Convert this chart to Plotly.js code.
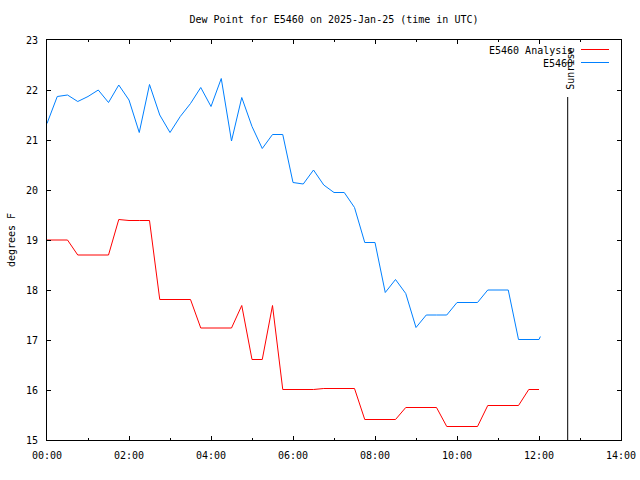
<!DOCTYPE html>
<html>
<head>
<meta charset="utf-8">
<script src="https://cdn.plot.ly/plotly-3.0.1.min.js"></script>
<style>html,body{margin:0;padding:0;background:#fff;}#chart{width:640px;height:480px;}</style>
</head>
<body>
<div id="chart"></div>
<script>
// Time of each sample (minutes after 2025-01-25 00:00 UTC)
const analysisMinutes = [0,15,30,45,60,75,90,105,120,135,150,165,180,195,210,225,240,255,270,285,300,315,330,345,360,375,390,405,420,435,450,465,480,495,510,525,540,555,570,585,600,615,630,645,660,675,690,705,720];
const analysisValues = [19.0,19.0,19.0,18.7,18.7,18.7,18.7,19.41,19.39,19.39,19.39,17.81,17.81,17.81,17.81,17.24,17.24,17.24,17.24,17.69,16.61,16.61,17.69,16.01,16.01,16.01,16.01,16.03,16.03,16.03,16.03,15.41,15.41,15.41,15.41,15.65,15.65,15.65,15.65,15.27,15.27,15.27,15.27,15.69,15.69,15.69,15.69,16.01,16.01];

const stationMinutes = [0,15,30,45,60,75,90,105,120,135,150,165,180,195,210,225,240,255,270,285,300,315,330,345,360,375,390,405,420,435,450,465,480,495,510,525,540,555,570,585,600,615,630,645,660,675,690,705,720,722];
const stationValues = [21.33,21.87,21.9,21.77,21.87,22.0,21.75,22.1,21.8,21.15,22.11,21.5,21.15,21.47,21.73,22.05,21.67,22.23,20.98,21.85,21.27,20.83,21.11,21.11,20.15,20.12,20.4,20.1,19.95,19.95,19.65,18.95,18.95,17.95,18.21,17.93,17.25,17.5,17.5,17.5,17.75,17.75,17.75,18.0,18.0,18.0,17.01,17.01,17.01,17.07];

const sunriseTime = '2025-01-25 12:42';
const seriesNames = ['E5460 Analysis', 'E5460'];
const titleText = 'Dew Point for E5460 on 2025-Jan-25 (time in UTC)';
const yTitleText = 'degrees F';

function toTime(m) {
  const d = new Date(Date.UTC(2025, 0, 25, 0, m));
  const p = n => String(n).padStart(2, '0');
  return '2025-01-25 ' + p(d.getUTCHours()) + ':' + p(d.getUTCMinutes());
}

const FONT = 'DejaVu Sans Mono, monospace';
const RED = '#ff0000';
const BLUE = '#0080ff';

const traces = [
  {x: analysisMinutes.map(toTime), y: analysisValues, type: 'scatter', mode: 'lines',
   name: seriesNames[0], line: {color: RED, width: 1}, showlegend: false, hoverinfo: 'skip'},
  {x: stationMinutes.map(toTime), y: stationValues, type: 'scatter', mode: 'lines',
   name: seriesNames[1], line: {color: BLUE, width: 1}, showlegend: false, hoverinfo: 'skip'}
];

const axisCommon = {
  showgrid: false, zeroline: false, showline: true, linecolor: '#000', linewidth: 1,
  mirror: 'allticks', ticks: 'inside', ticklen: 4, tickwidth: 1, tickcolor: '#000',
  tickfont: {family: FONT, size: 10, color: '#000'}
};

const layout = {
  width: 640, height: 480,
  margin: {l: 47, r: 19, t: 40, b: 40, pad: 0},
  paper_bgcolor: '#fff', plot_bgcolor: '#fff',
  font: {family: FONT, size: 10, color: '#000'},
  title: {text: titleText, font: {family: FONT, size: 10, color: '#000'},
          x: 0.5, xref: 'paper', y: 1 - 19/480, yanchor: 'middle'},
  xaxis: Object.assign({}, axisCommon, {
    type: 'date', range: ['2025-01-25 00:00', '2025-01-25 14:00'],
    dtick: 7200000, tick0: '2025-01-25 00:00', tickformat: '%H:%M',
    ticklabelstandoff: 6,
    minor: {dtick: 3600000, ticks: 'inside', ticklen: 2, tickcolor: '#000', showgrid: false}
  }),
  yaxis: Object.assign({}, axisCommon, {
    range: [15, 23], dtick: 1, tick0: 15, ticklabelstandoff: 6,
    title: {text: yTitleText, font: {family: FONT, size: 10, color: '#000'}, standoff: 8}
  }),
  shapes: [
    {type: 'line', xref: 'x', yref: 'paper', x0: sunriseTime, x1: sunriseTime, y0: 0, y1: (440-97)/400,
     line: {color: '#000', width: 1}},
    {type: 'line', xref: 'paper', yref: 'paper', x0: (581-47)/574, x1: (609-47)/574,
     y0: (440-49.5)/400, y1: (440-49.5)/400, line: {color: RED, width: 1}},
    {type: 'line', xref: 'paper', yref: 'paper', x0: (581-47)/574, x1: (609-47)/574,
     y0: (440-62.5)/400, y1: (440-62.5)/400, line: {color: BLUE, width: 1}}
  ],
  annotations: [
    {text: seriesNames[0], xref: 'paper', yref: 'paper', x: (575-47)/574, y: (440-50)/400,
     xanchor: 'right', yanchor: 'middle', showarrow: false, font: {family: FONT, size: 10, color: '#000'}},
    {text: seriesNames[1], xref: 'paper', yref: 'paper', x: (575-47)/574, y: (440-63)/400,
     xanchor: 'right', yanchor: 'middle', showarrow: false, font: {family: FONT, size: 10, color: '#000'}},
    {text: 'Sunrise', xref: 'x', yref: 'paper', x: sunriseTime, y: (440-69)/400, xshift: 2,
     xanchor: 'center', yanchor: 'middle', textangle: -90, showarrow: false,
     font: {family: FONT, size: 10, color: '#000'}}
  ]
};

Plotly.newPlot('chart', traces, layout, {staticPlot: true, displayModeBar: false});
</script>
</body>
</html>
